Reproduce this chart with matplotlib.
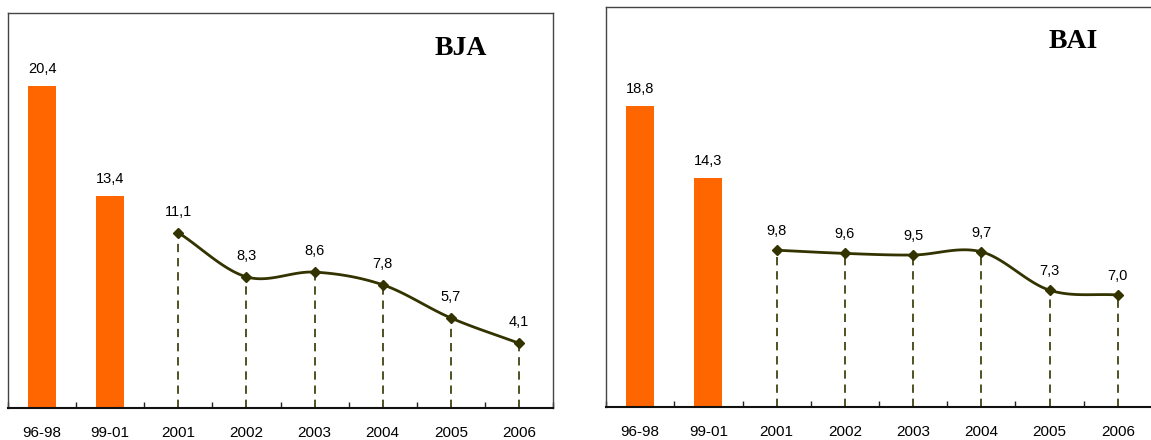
import numpy as np
import matplotlib.pyplot as plt

# Daten
kategorien = ["96-98", "99-01", "2001", "2002", "2003", "2004", "2005", "2006"]
bja_balken = [20.4, 13.4]
bja_linie = [11.1, 8.3, 8.6, 7.8, 5.7, 4.1]
bai_balken = [18.8, 14.3]
bai_linie = [9.8, 9.6, 9.5, 9.7, 7.3, 7.0]

orange = "#FF6600"
oliv = "#333300"


def glatt(x, y, n=25):
    # Catmull-Rom Kurve durch die Punkte (wie Excel "geglaettete Linie")
    x = np.asarray(x, float)
    y = np.asarray(y, float)
    px = np.concatenate([[2 * x[0] - x[1]], x, [2 * x[-1] - x[-2]]])
    py = np.concatenate([[2 * y[0] - y[1]], y, [2 * y[-1] - y[-2]]])
    xs, ys = [], []
    t = np.linspace(0, 1, n)
    for i in range(1, len(px) - 2):
        for p, out in ((px, xs), (py, ys)):
            p0, p1, p2, p3 = p[i - 1], p[i], p[i + 1], p[i + 2]
            out.extend(0.5 * ((2 * p1) + (-p0 + p2) * t
                              + (2 * p0 - 5 * p1 + 4 * p2 - p3) * t ** 2
                              + (-p0 + 3 * p1 - 3 * p2 + p3) * t ** 3))
    return np.array(xs), np.array(ys)


def panel(ax, balken, linie, titel, tx, ty, label_off):
    xb = np.arange(len(balken))
    xl = np.arange(len(balken), len(kategorien))
    ax.bar(xb, balken, width=0.41, color=orange, zorder=2)
    for x, v in zip(xb, balken):
        ax.annotate(f"{v:.1f}".replace(".", ","), (x, v), xytext=(0, 17),
                    textcoords="offset pixels", ha="center", va="center",
                    fontsize=10.5, family="Liberation Sans")
    ax.vlines(xl, 0, linie, colors=oliv, linestyles=(0, (5, 3.5)), lw=1.2, zorder=1)
    gx, gy = glatt(xl, linie)
    ax.plot(gx, gy, color=oliv, lw=2.0, zorder=3)
    ax.plot(xl, linie, "D", color=oliv, ms=5.5, zorder=4)
    for x, v in zip(xl, linie):
        ax.annotate(f"{v:.1f}".replace(".", ","), (x, v), xytext=(0, label_off),
                    textcoords="offset pixels", ha="center", va="center",
                    fontsize=10.5, family="Liberation Sans")
    ax.text(tx, ty, titel, transform=ax.transAxes, ha="center", va="center",
            fontsize=20, fontweight="bold", family="Liberation Serif")
    ax.set_xlim(-0.5, len(kategorien) - 0.5)
    ax.set_ylim(0, 25)
    ax.set_yticks([])
    ax.set_xticks(np.arange(len(kategorien)))
    ax.set_xticklabels(kategorien, fontsize=11, family="Liberation Sans")
    ax.set_xticks(np.arange(-0.5, len(kategorien)), minor=True)
    ax.tick_params(axis="x", which="major", length=0, pad=13)
    ax.tick_params(axis="x", which="minor", direction="in", length=4, width=1, color="#222222")
    for s in ("left", "top", "right"):
        ax.spines[s].set_color("#444444")
        ax.spines[s].set_linewidth(1.0)
    ax.spines["bottom"].set_color("#111111")
    ax.spines["bottom"].set_linewidth(1.5)


fig = plt.figure(figsize=(11.51, 4.40), dpi=100)
ax1 = fig.add_axes([8 / 1151, 1 - 408 / 440, 545 / 1151, 395 / 440])
ax2 = fig.add_axes([606 / 1151, 1 - 407 / 440, 546 / 1151, 400 / 440])

panel(ax1, bja_balken, bja_linie, "BJA", 0.83, 0.91, 21)
panel(ax2, bai_balken, bai_linie, "BAI", 0.855, 0.915, 19)

plt.savefig("out.png", dpi=100)
plt.close()
